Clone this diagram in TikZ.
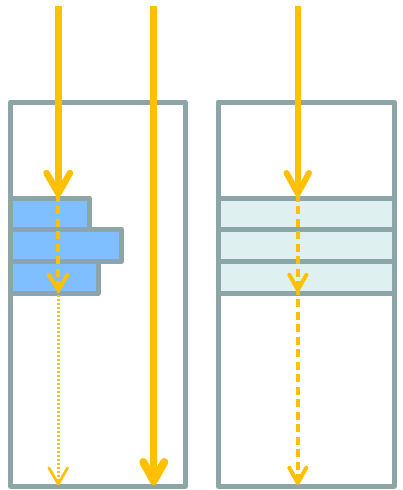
\documentclass[tikz,border=0pt]{standalone}
\definecolor{boxgray}{RGB}{140,165,166}
\definecolor{rayyellow}{RGB}{255,192,0}
\definecolor{barblue}{RGB}{128,191,255}
\definecolor{barlight}{RGB}{223,240,240}
\begin{document}
\begin{tikzpicture}[x=1pt,y=-1pt,
  frame/.style={draw=boxgray,line width=5pt,line join=round},
  bluebar/.style={frame,fill=barblue},
  lightbar/.style={frame,fill=barlight},
  ray/.style={draw=rayyellow,line cap=butt},
  chevron/.style={draw=rayyellow,line cap=round,line join=round},
  dashray/.style={ray,line width=4pt,dash pattern=on 8pt off 4.5pt},
  dotray/.style={ray,line width=2.7pt,dash pattern=on 2.2pt off 1.8pt}]
\useasboundingbox (0,0) rectangle (403,490);
% containers
\draw[frame] (10.5,102) rectangle (185,486);
\draw[frame] (218,102) rectangle (394,486);
% left stack
\draw[bluebar] (10.5,198) rectangle (89.5,229.5);
\draw[bluebar] (10.5,229.5) rectangle (121.5,261.5);
\draw[bluebar] (10.5,261.5) rectangle (98,293);
% right stack
\draw[lightbar] (218,198) rectangle (394,229.5);
\draw[lightbar] (218,229.5) rectangle (394,261.5);
\draw[lightbar] (218,261.5) rectangle (394,293);
% coordinates
\coordinate (aS) at (58.3,6);
\coordinate (aT1) at (58.3,193.5);
\coordinate (aT2) at (58.3,289.7);
\coordinate (aT3) at (58.3,484);
\coordinate (bS) at (153.7,6);
\coordinate (bT) at (153.7,481);
\coordinate (cS) at (297.8,6);
\coordinate (cT1) at (297.8,193.5);
\coordinate (cT2) at (297.8,289.7);
\coordinate (cT3) at (297.8,483);
% left ray
\draw[ray,line width=6.5pt] (aS) -- (aT1);
\draw[chevron,line width=6.5pt] (46.5,173) -- (aT1) -- (70,173);
\draw[dashray] (aT1) -- (aT2);
\draw[chevron,line width=4pt] (48.7,274.7) -- (aT2) -- (67.5,274.7);
\draw[dotray] ([yshift=3pt]aT2) -- (aT3);
\draw[chevron,line width=2.7pt] (48.8,467.8) -- (aT3) -- (67.6,467.8);
% middle ray
\draw[ray,line width=7.5pt] (bS) -- (bT);
\draw[chevron,line width=8pt] (143.3,462) -- (bT) -- (164.3,462);
% right ray
\draw[ray,line width=6pt] (cS) -- (cT1);
\draw[chevron,line width=6pt] (286.5,173) -- (cT1) -- (309,173);
\draw[dashray] (cT1) -- (cT2);
\draw[chevron,line width=4pt] (289.3,274.7) -- (cT2) -- (306.5,274.7);
\draw[dashray] ([yshift=3pt]cT2) -- (cT3);
\draw[chevron,line width=4pt] (289.3,467.7) -- (cT3) -- (306.3,467.7);
\end{tikzpicture}
\end{document}
